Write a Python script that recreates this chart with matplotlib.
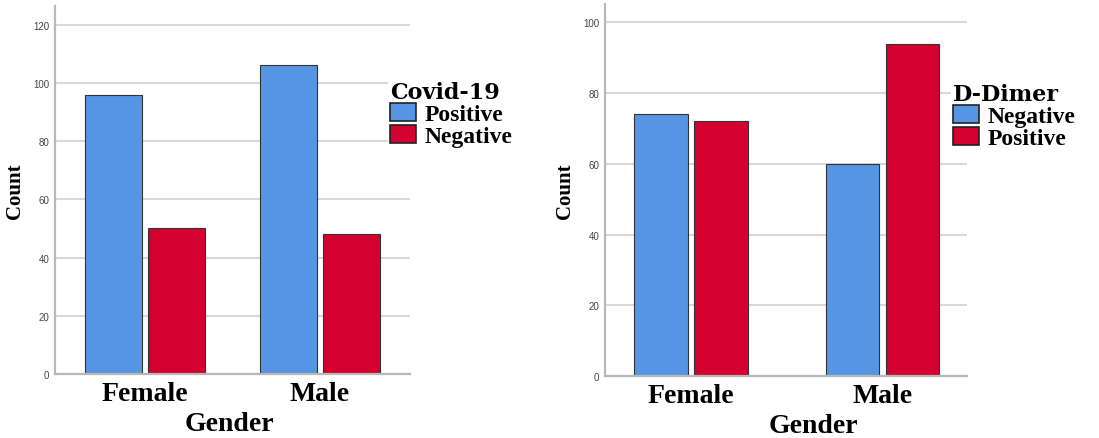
import numpy as np
import matplotlib.pyplot as plt

genders = ['Female', 'Male']

# left panel: Covid-19 result by gender
covid_labels = ['Positive', 'Negative']
covid_positive = [96, 106]
covid_negative = [50, 48]

# right panel: D-Dimer result by gender
ddimer_labels = ['Negative', 'Positive']
ddimer_negative = [74, 60]
ddimer_positive = [72, 94]

blue = '#5695E3'
red = '#D4002F'
serif = 'Liberation Serif'


def draw_panel(ax, first, second, labels, title, ymax, yticks, width, offset,
               xlim, legend_xy, xlabel_x):
    x = np.arange(len(genders))
    ax.bar(x - offset, first, width, color=blue, edgecolor='#333333', linewidth=0.8, label=labels[0])
    ax.bar(x + offset, second, width, color=red, edgecolor='#333333', linewidth=0.8, label=labels[1])

    ax.set_xlim(*xlim)
    ax.set_ylim(0, ymax)
    ax.set_yticks(yticks)
    ax.set_xticks(x)
    ax.set_xticklabels(genders, fontfamily=serif, fontweight='bold', fontsize=20)

    #grid + spines like spss output
    ax.yaxis.grid(True, color='#d9d9d9', linewidth=1.5)
    ax.set_axisbelow(True)
    for s in ['top', 'right']:
        ax.spines[s].set_visible(False)
    for s in ['left', 'bottom']:
        ax.spines[s].set_color('#b8b8b8')
        ax.spines[s].set_linewidth(1.6)
    ax.tick_params(axis='y', length=0, pad=4, labelsize=7, labelcolor='#444444')
    ax.tick_params(axis='x', length=0, pad=5)
    for t in ax.get_yticklabels():
        t.set_fontfamily('Liberation Sans')

    ax.set_ylabel('Count', fontfamily=serif, fontweight='bold', fontsize=15, labelpad=6)
    ax.set_xlabel('Gender', fontfamily=serif, fontweight='bold', fontsize=20, labelpad=-2)
    ax.xaxis.set_label_coords(xlabel_x, -0.1)

    leg = ax.legend(loc='upper left', bbox_to_anchor=legend_xy, bbox_transform=ax.figure.transFigure,
                    title=title, alignment='left', frameon=True, facecolor='white', edgecolor='none',
                    framealpha=1, borderpad=0.1, borderaxespad=0, handlelength=1.1, handleheight=0.75,
                    handletextpad=0.35, labelspacing=0.0,
                    prop={'family': serif, 'weight': 'bold', 'size': 17},
                    title_fontproperties={'family': 'DejaVu Serif', 'weight': 'bold', 'size': 16})
    for p in leg.get_patches():
        p.set_edgecolor('#222222')
        p.set_linewidth(1.2)


fig = plt.figure(figsize=(10.99, 4.39), dpi=100)
ax1 = fig.add_axes([55/1099, 1-375/439, 355/1099, 368/439])
ax2 = fig.add_axes([605/1099, 1-377/439, 362/1099, 372/439])

draw_panel(ax1, covid_positive, covid_negative, covid_labels, 'Covid-19', 126.4,
           np.arange(0, 121, 20), 0.33, 0.18, (-0.514, 1.514), (388/1099, 1-80/439), 0.49)
draw_panel(ax2, ddimer_negative, ddimer_positive, ddimer_labels, 'D-Dimer', 105.2,
           np.arange(0, 101, 20), 0.28, 0.157, (-0.449, 1.441), (951/1099, 1-82/439), 0.575)

plt.savefig('out.png', dpi=100)
